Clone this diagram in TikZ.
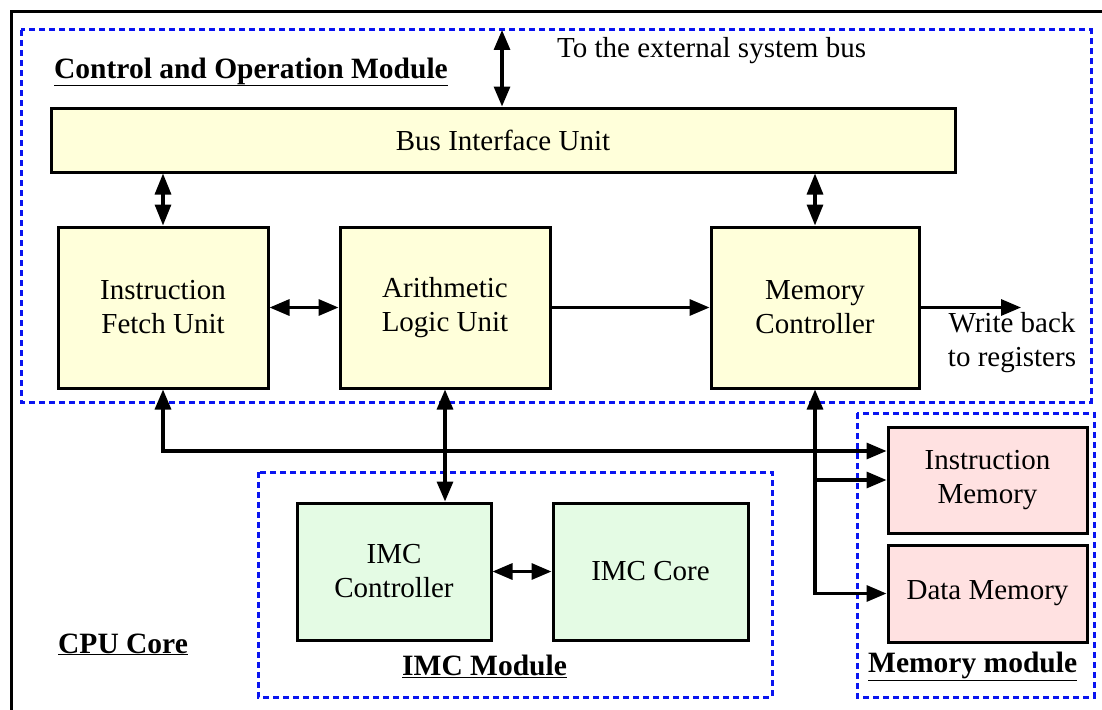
\documentclass[tikz,border=0pt]{standalone}
\usepackage{fontspec}
\setmainfont{Liberation Serif}
\usetikzlibrary{arrows.meta,calc}
\definecolor{unitfill}{HTML}{FFFFDA}
\definecolor{imcfill}{HTML}{E4FBE4}
\definecolor{memfill}{HTML}{FFE1E1}
\definecolor{modblue}{HTML}{0A14F0}
\begin{document}
\begin{tikzpicture}[x=1pt,y=-1pt,
  every node/.style={font=\fontsize{29}{34}\selectfont, inner sep=0pt},
  unitbox/.style={draw=black, line width=3pt, fill=#1, align=center},
  modbox/.style={draw=modblue, line width=3pt, dash pattern=on 6pt off 4pt},
  conn/.style={line width=3.2pt, -{Triangle[length=20pt,width=16pt]}},
  dconn/.style={line width=3.2pt, {Triangle[length=20pt,width=16pt]}-{Triangle[length=20pt,width=16pt]}},
  sconn/.style={line width=3.2pt, {Triangle[length=21pt,width=16pt]}-{Triangle[length=21pt,width=16pt]}},
  modlabel/.style={anchor=base west, font=\fontsize{29.5}{34}\selectfont\bfseries}
]
\useasboundingbox (0,0) rectangle (1102,709);
% outer CPU core frame
\draw[line width=3pt] (11,730) -- (11,12) -- (1120,12);
% module frames
\draw[modbox] (21,30) rectangle (1091,402);
\draw[modbox] (258,472) rectangle (772,697);
\draw[modbox] (857,413) rectangle (1094,697);
% units
\node[unitbox=unitfill, minimum width=904pt, minimum height=64pt] (biu) at (503,140) {Bus Interface Unit};
\node[unitbox=unitfill, minimum width=210pt, minimum height=161pt] (ifu) at (163,307.5) {Instruction\\Fetch Unit};
\node[unitbox=unitfill, minimum width=210pt, minimum height=161pt] (alu) at (445,307.5) {Arithmetic\\Logic Unit};
\node[unitbox=unitfill, minimum width=208pt, minimum height=161pt] (mc) at (815,307.5) {Memory\\Controller};
\node[unitbox=imcfill, minimum width=194pt, minimum height=137pt] (imcc) at (394,571.5) {IMC\\Controller};
\node[unitbox=imcfill, minimum width=195pt, minimum height=137pt] (imccore) at (650.5,571.5) {IMC Core};
\node[unitbox=memfill, minimum width=199pt, minimum height=106pt] (im) at (987.5,480) {Instruction\\Memory};
\node[unitbox=memfill, minimum width=199pt, minimum height=97pt] (dm) at (987.5,593.5) {Data Memory};
% labels
\node[modlabel] (comlab) at (54,78) {\underline{Control and Operation Module}};
\node[modlabel] (cpulab) at (58,653) {\underline{CPU Core}};
\node[modlabel] (imclab) at (402,675) {\underline{IMC Module}};
\node[modlabel] (memlab) at (868,672) {\underline{Memory module}};
\node[anchor=base west] (extlab) at (557,57) {To the external system bus};
\node[align=center] (wblab) at (1012,343) {Write back\\to registers};
% coordinates
\coordinate (ext) at (502,30);
\coordinate (wb) at (1021,307.5);
\coordinate (bus) at (0,451);
% connectors
\draw[dconn] (ext) -- (ext |- biu.north);
\draw[sconn] (biu.south -| ifu.north) -- (ifu.north);
\draw[sconn] (biu.south -| mc.north) -- (mc.north);
\draw[dconn] (ifu.east) -- (alu.west);
\draw[conn] (alu.east) -- (mc.west);
\draw[conn] (mc.east) -- (wb);
\draw[dconn] (ifu.south) -- (ifu.south |- bus) -- (bus -| im.west);
\draw[dconn] (alu.south) -- (alu.south |- imcc.north);
\draw[dconn] (mc.south) -- (mc.south |- dm.west) -- (dm.west);
\draw[conn] (mc.south |- im.west) -- (im.west);
\draw[dconn] (imcc.east) -- (imccore.west);
\end{tikzpicture}
\end{document}
